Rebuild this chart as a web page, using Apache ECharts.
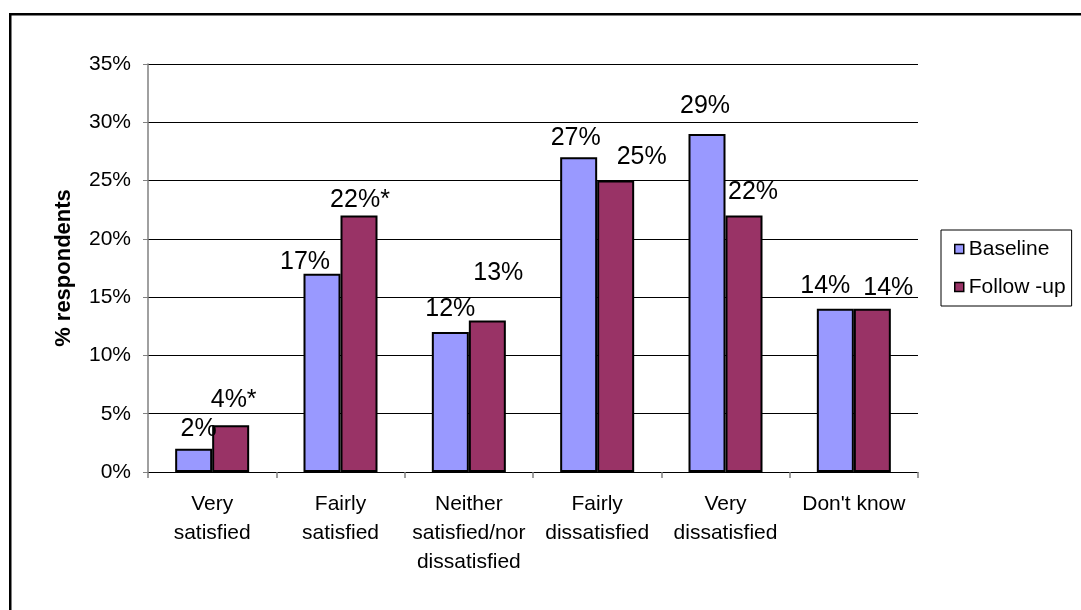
<!DOCTYPE html>
<html>
<head>
<meta charset="utf-8">
<script src="https://cdn.jsdelivr.net/npm/echarts@6/dist/echarts.min.js"></script>
<style>
  html, body { margin: 0; padding: 0; background: #fff; }
  #chart { width: 1081px; height: 610px; }
</style>
</head>
<body>
<div id="chart"></div>
<script>
// Satisfaction ratings, baseline vs follow-up survey (% of respondents)
const categories = [
  'Very\nsatisfied',
  'Fairly\nsatisfied',
  'Neither\nsatisfied/nor\ndissatisfied',
  'Fairly\ndissatisfied',
  'Very\ndissatisfied',
  "Don't know"
];
const baseline = [2, 17, 12, 27, 29, 14];
const followUp = [4, 22, 13, 25, 22, 14];
// '*' marks a significant change at follow-up
const followUpFlags = ['*', '*', '', '', '', ''];
const yTicks = { min: 0, max: 35, step: 5 };

// Nudges for the value labels (px, relative to the top centre of each bar)
const baselineLabelShift = [[5, -20], [-17, -12], [0, -23], [-3, -19], [-2, -28], [-10, -23]];
const followUpLabelShift = [[3, -25], [1, -15], [11, -47], [26, -23], [9, -23], [16, -21]];

const FONT = '"Liberation Sans", Arial, sans-serif';

function withLabels(values, shifts, flags) {
  return values.map((v, i) => ({
    value: v,
    label: {
      offset: shifts[i],
      formatter: v + '%' + (flags ? flags[i] : '')
    }
  }));
}

const barLabel = {
  show: true,
  position: 'top',
  distance: 0,
  verticalAlign: 'middle',
  align: 'center',
  color: '#000',
  fontFamily: FONT,
  fontSize: 25
};

const chart = echarts.init(document.getElementById('chart'), null, { renderer: 'canvas' });

chart.setOption({
  backgroundColor: '#ffffff',
  animation: false,
  graphic: [{
    type: 'rect',
    shape: { x: 10.25, y: 14.25, width: 1200, height: 800 },
    style: { fill: 'none', stroke: '#000', lineWidth: 2.5 },
    silent: true,
    z: 100
  }],
  grid: { left: 148, right: 163, top: 64, bottom: 138, containLabel: false },
  legend: {
    orient: 'vertical',
    left: 941,
    top: 230,
    padding: [8.5, 6, 8.5, 13],
    itemGap: 17,
    itemWidth: 9,
    itemHeight: 9,
    icon: 'rect',
    borderColor: '#000',
    borderWidth: 1,
    textStyle: { color: '#000', fontFamily: FONT, fontSize: 21, lineHeight: 21 },
    data: [
      { name: 'Baseline', itemStyle: { borderColor: '#000', borderWidth: 1.5 } },
      { name: 'Follow -up', itemStyle: { borderColor: '#000', borderWidth: 1.5 } }
    ]
  },
  xAxis: {
    type: 'category',
    data: categories,
    axisLine: { lineStyle: { color: '#000', width: 1 } },
    axisTick: { show: true, length: 6, lineStyle: { color: '#808080', width: 1.5 } },
    axisLabel: {
      color: '#000',
      fontFamily: FONT,
      fontSize: 21,
      lineHeight: 29,
      margin: 18,
      interval: 0,
      align: 'center'
    }
  },
  yAxis: {
    type: 'value',
    min: yTicks.min,
    max: yTicks.max,
    interval: yTicks.step,
    name: '% respondents',
    nameLocation: 'middle',
    nameGap: 73,
    nameRotate: 90,
    nameTextStyle: { color: '#000', fontFamily: FONT, fontSize: 22, fontWeight: 'bold' },
    axisLine: { show: true, lineStyle: { color: '#808080', width: 1.5 } },
    axisTick: { show: true, length: 5, lineStyle: { color: '#808080', width: 1 } },
    axisLabel: {
      color: '#000',
      fontFamily: FONT,
      fontSize: 21,
      margin: 17,
      formatter: '{value}%'
    },
    splitLine: { show: true, lineStyle: { color: '#000', width: 1 } }
  },
  series: [
    {
      name: 'Baseline',
      type: 'bar',
      barWidth: 37,
      barGap: '0%',
      itemStyle: { color: '#9999FF', borderColor: '#000', borderWidth: 2 },
      label: barLabel,
      data: withLabels(baseline, baselineLabelShift, null)
    },
    {
      name: 'Follow -up',
      type: 'bar',
      barWidth: 37,
      barGap: '0%',
      itemStyle: { color: '#993366', borderColor: '#000', borderWidth: 2 },
      label: barLabel,
      data: withLabels(followUp, followUpLabelShift, followUpFlags)
    }
  ]
});
</script>
</body>
</html>
